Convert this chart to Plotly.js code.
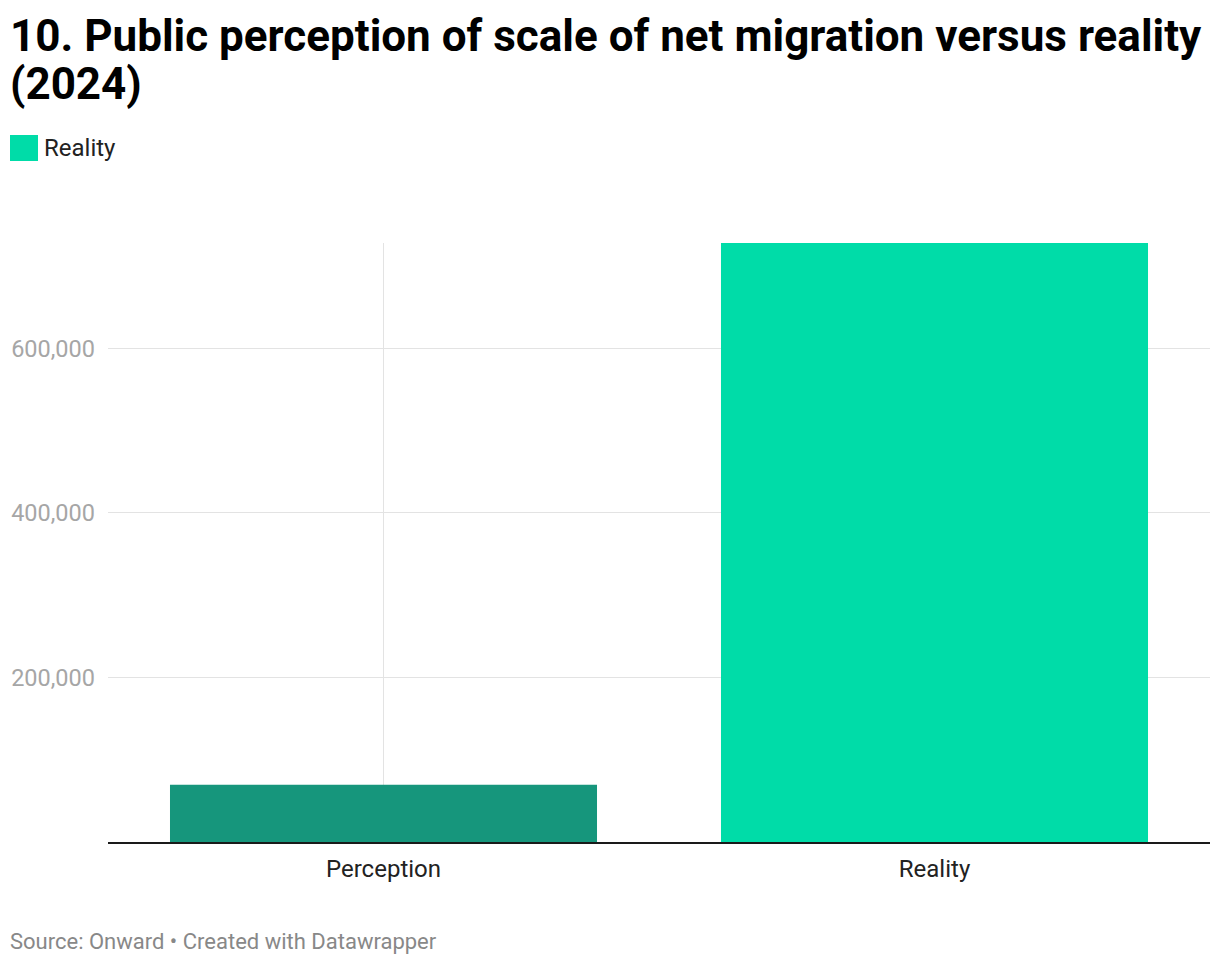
<!DOCTYPE html>
<html>
<head>
<meta charset="utf-8">
<script src="https://cdn.plot.ly/plotly-3.0.1.min.js"></script>
<style>
html,body{margin:0;padding:0;background:#fff;}
#chart{width:1220px;height:964px;}
</style>
</head>
<body>
<div id="chart"></div>
<script>
// ---- data ----
const categories = ["Perception", "Reality"];
const values = [69500, 728000];
const barColors = ["#16967c", "#00dca8"];
const yTickValues = [200000, 400000, 600000];
const yTickLabels = ["200,000", "400,000", "600,000"];
const legendLabel = "Reality";
const titleLines = ["10. Public perception of scale of net migration versus reality", "(2024)"];
const sourceText = "Source: Onward • Created with Datawrapper";

// ---- layout geometry ----
const W = 1220, H = 964;
const M = {l: 108, r: 10, t: 243, b: 122};
const PW = W - M.l - M.r, PH = H - M.t - M.b;
const px = x => (x - M.l) / PW;          // pixel x -> paper x
const py = y => (H - M.b - y) / PH;      // pixel y -> paper y

const FONT = "Roboto, 'Noto Sans', sans-serif";

const trace = {
  type: "bar",
  x: categories,
  y: values,
  marker: {color: barColors, line: {width: 0}},
  width: 0.775,
  hoverinfo: "skip",
  showlegend: false
};

const titleFont = {family: FONT, size: 44, color: "#000", weight: 700};

const layout = {
  width: W, height: H,
  margin: M,
  paper_bgcolor: "#fff",
  plot_bgcolor: "#fff",
  font: {family: FONT, color: "#222"},
  showlegend: false,
  xaxis: {
    type: "category",
    range: [-0.5, 1.5],
    showgrid: true, gridcolor: "#e3e3e3", gridwidth: 1,
    showline: true, linecolor: "#1a1a1a", linewidth: 2,
    ticks: "", ticklabelstandoff: 4,
    tickfont: {family: FONT, size: 24, color: "#222"},
    zeroline: false, fixedrange: true
  },
  yaxis: {
    range: [0, values[1]],
    tickvals: yTickValues, ticktext: yTickLabels,
    showgrid: true, gridcolor: "#e3e3e3", gridwidth: 1,
    showline: false, zeroline: false,
    ticks: "", ticklabelstandoff: 12,
    tickfont: {family: FONT, size: 23.5, color: "#a6a6a6"},
    fixedrange: true
  },
  shapes: [
    {type: "rect", xref: "paper", yref: "paper",
     x0: px(10), x1: px(38), y0: py(161), y1: py(135),
     fillcolor: barColors[1], line: {width: 0}}
  ],
  annotations: [
    {text: "<b>" + titleLines[0] + "</b>", xref: "paper", yref: "paper",
     x: px(8), y: py(36), xanchor: "left", yanchor: "middle",
     showarrow: false, font: titleFont},
    {text: "<b>" + titleLines[1] + "</b>", xref: "paper", yref: "paper",
     x: px(8), y: py(84), xanchor: "left", yanchor: "middle",
     showarrow: false, font: titleFont},
    {text: legendLabel, xref: "paper", yref: "paper",
     x: px(42), y: py(148), xanchor: "left", yanchor: "middle",
     showarrow: false, font: {family: FONT, size: 24, color: "#222"}},
    {text: sourceText, xref: "paper", yref: "paper",
     x: px(8), y: py(941), xanchor: "left", yanchor: "middle",
     showarrow: false, font: {family: FONT, size: 22, color: "#888"}}
  ]
};

Plotly.newPlot("chart", [trace], layout, {displayModeBar: false, staticPlot: true});
</script>
</body>
</html>
